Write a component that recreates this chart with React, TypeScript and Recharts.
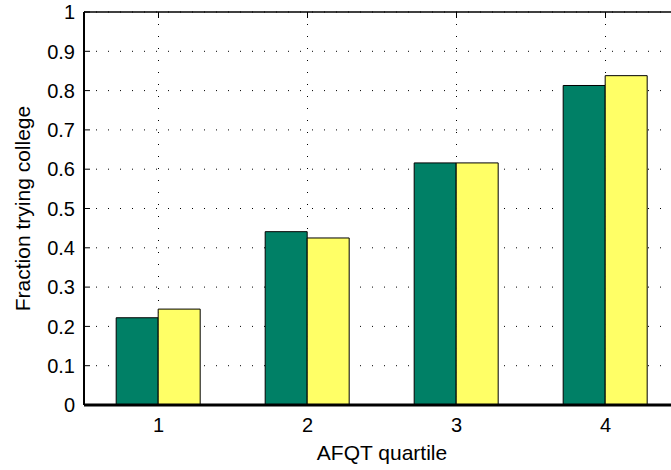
import React from "react"
import { BarChart, Bar, XAxis, YAxis, CartesianGrid, Label } from "recharts"

const quartiles = ["1", "2", "3", "4"]
const groupA = [0.222, 0.441, 0.616, 0.813]
const groupB = [0.244, 0.425, 0.616, 0.838]
const yTicks = [0, 0.1, 0.2, 0.3, 0.4, 0.5, 0.6, 0.7, 0.8, 0.9, 1]

const data = quartiles.map((q, i) => ({ q, a: groupA[i], b: groupB[i] }))

const FONT = "'Liberation Sans', Arial, Helvetica, sans-serif"

function YTick(props: any) {
  const { x, y, payload } = props
  return (
    <g>
      <line x1={x + 9} x2={x + 15} y1={y} y2={y} stroke="#000" strokeWidth={1} />
      <text x={x} y={y} dy="0.36em" textAnchor="end" fontSize={20} fontFamily={FONT} fill="#000">
        {String(payload.value)}
      </text>
    </g>
  )
}

export default function App() {
  return (
    <div style={{ position: "absolute", left: 0, top: 0, width: 671, height: 470, overflow: "hidden", background: "#fff" }}>
      <BarChart
        width={700}
        height={470}
        data={data}
        margin={{ top: 12, right: 20, bottom: 0, left: 0 }}
        barCategoryGap="21.6%"
        barGap={0}
      >
        <CartesianGrid stroke="#000" strokeWidth={1} strokeDasharray="1 11" />
        <XAxis
          dataKey="q"
          height={65}
          axisLine={{ stroke: "#000", strokeWidth: 3 }}
          tickLine={false}
          tickSize={0}
          tickMargin={13}
          tick={{ fontSize: 20, fill: "#000", fontFamily: FONT }}
        >
          <Label
            value="AFQT quartile"
            position="insideBottom"
            offset={10}
            style={{ fontSize: 21, fill: "#000", fontFamily: FONT }}
          />
        </XAxis>
        <XAxis
          xAxisId="top"
          dataKey="q"
          orientation="top"
          mirror
          axisLine={{ stroke: "#000", strokeWidth: 1.5 }}
          tickLine={{ stroke: "#000" }}
          tickSize={6}
          tick={() => null}
        />
        <YAxis
          width={84}
          type="number"
          domain={[0, 1]}
          ticks={yTicks}
          interval={0}
          axisLine={{ stroke: "#000", strokeWidth: 2 }}
          tickLine={false}
          tickSize={0}
          tickMargin={9}
          tick={<YTick />}
        >
          <Label
            content={(p: any) => {
              const vb = p.viewBox
              const cx = vb.x + 29.5
              const cy = vb.y + vb.height / 2
              return (
                <text
                  x={cx}
                  y={cy}
                  transform={`rotate(-90, ${cx}, ${cy})`}
                  textAnchor="middle"
                  fontSize={21}
                  fontFamily={FONT}
                  fill="#000"
                >
                  Fraction trying college
                </text>
              )
            }}
          />
        </YAxis>
        <Bar dataKey="a" fill="#008066" stroke="#000" strokeWidth={1} isAnimationActive={false} />
        <Bar dataKey="b" fill="#ffff66" stroke="#000" strokeWidth={1} isAnimationActive={false} />
      </BarChart>
    </div>
  )
}
